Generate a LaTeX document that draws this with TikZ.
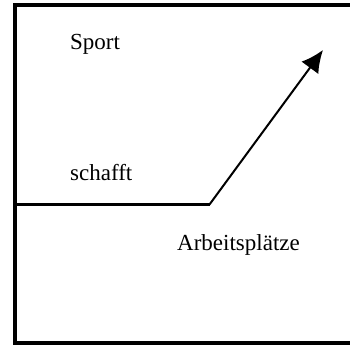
\documentclass[tikz,border=0pt]{standalone}
\usepackage{fontspec}
\setmainfont{Liberation Serif}
\usetikzlibrary{arrows.meta}
\begin{document}
\begin{tikzpicture}[x=1pt,y=-1pt,
  lbl/.style={anchor=base west,inner sep=0pt,font=\fontsize{23}{27}\selectfont},
  frame/.style={line width=3.5pt},
  arr/.style={line width=2pt,-{Latex[length=22pt,width=21pt]}}]
\useasboundingbox (0,0) rectangle (350,345);
\coordinate (tl) at (15,5);
\coordinate (tr) at (352,5);
\coordinate (bl) at (15,343);
\coordinate (br) at (352,343);
\coordinate (hl) at (15,204.5);
\coordinate (hr) at (209.5,204.5);
\coordinate (tip) at (323,50);
\draw[frame] (tr) -- (tl) -- (bl) -- (br);
\draw[frame] (hl) -- (hr);
\draw[arr] (hr) -- (tip);
\node[lbl] (sport) at (70,49) {Sport};
\node[lbl] (schafft) at (70,180) {schafft};
\node[lbl] (arb) at (177,250) {Arbeitsplätze};
\end{tikzpicture}
\end{document}
